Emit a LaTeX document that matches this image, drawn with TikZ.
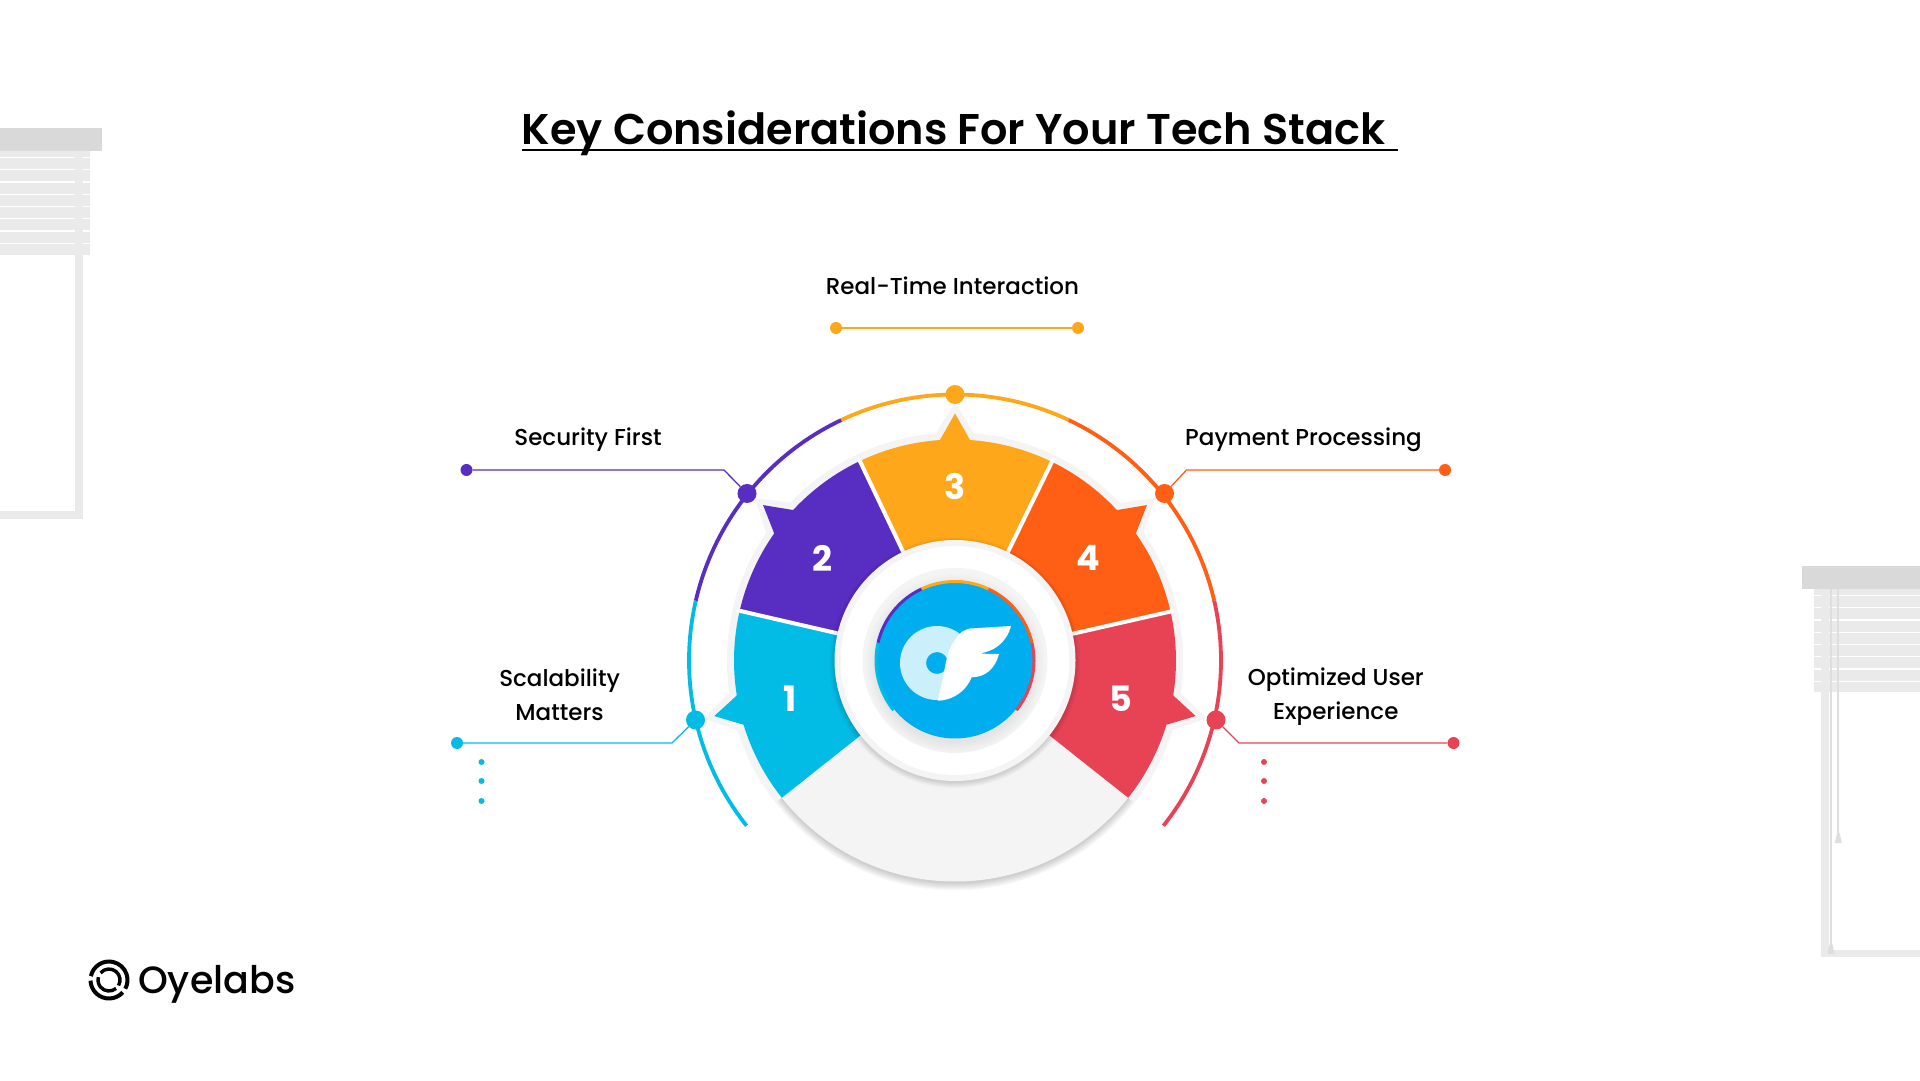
\documentclass[tikz,border=0pt]{standalone}
\usepackage{fontspec}
\setmainfont{Poppins}
\newfontfamily\pmed{Poppins}[UprightFont=* Medium,BoldFont=* SemiBold]
\newfontfamily\psemi{Poppins}[UprightFont=* SemiBold]
\newfontfamily\pbold{Poppins}[UprightFont=* Bold]
\definecolor{ccyan}{HTML}{02BCE5}
\definecolor{cpurple}{HTML}{582DC2}
\definecolor{camber}{HTML}{FFA71A}
\definecolor{corange}{HTML}{FF5F15}
\definecolor{cred}{HTML}{E84355}
\definecolor{cblue}{HTML}{00AEEF}
\definecolor{band}{HTML}{F4F4F4}
\definecolor{framec}{HTML}{EAEAEA}
\definecolor{barc}{HTML}{D9D9D9}
\definecolor{cordc}{HTML}{DEDEDE}
\definecolor{oflight}{HTML}{CBEFFB}
\newcommand{\petal}[4]{\fill[#4] (#1:115) -- (#1:221) arc[start angle=#1,end angle={#3+3.9},radius=221] -- (#3:247) -- ({#3-3.9}:221) arc[start angle={#3-3.9},end angle=#2,radius=221] -- (#2:115) -- cycle;}
\newcommand{\ringseg}[5]{\draw[#4,line width=#5] (#2:#1) arc[start angle=#2,end angle=#3,radius=#1];}
\tikzset{
  x=1pt,y=1pt,
  dotn/.style={circle,inner sep=0pt,minimum size=#1},
  lbl/.style={font=\pmed\fontsize{23}{34}\selectfont,text=black,align=center,inner sep=0pt},
  num/.style={font=\pbold\fontsize{35}{40}\selectfont,text=white,inner sep=0pt},
  lead/.style={line width=1.3pt}
}
\begin{document}
\begin{tikzpicture}
\useasboundingbox (0,0) rectangle (1920,1080);
\fill[white] (0,0) rectangle (1920,1080);
% left window
\fill[framec] (0,825) rectangle (90,929);
\foreach \k in {0,...,7}{\fill[white] (0,{923.3-12.3*\k}) rectangle (90,{922-12.3*\k});}
\fill[framec] (75,561) rectangle (82.7,929);
\fill[framec] (0,561) rectangle (82.7,568.5);
\fill[barc] (0,929) rectangle (102,952);
% right window
\fill[framec] (1814,387.5) rectangle (1920,491);
\foreach \k in {0,...,7}{\fill[white] (1814,{485.3-12.3*\k}) rectangle (1920,{484-12.3*\k});}
\fill[framec] (1821.3,123) rectangle (1829,491);
\fill[framec] (1821.3,123) rectangle (1920,130.5);
\draw[cordc,line width=2] (1831,491) -- (1831,130);
\draw[cordc,line width=2] (1838.3,491) -- (1838.3,247);
\fill[cordc] (1837,247) -- (1839.6,247) -- (1841.8,237) -- (1834.8,237) -- cycle;
\fill[cordc] (1829.7,136) -- (1832.3,136) -- (1834.5,126) -- (1827.5,126) -- cycle;
\fill[barc] (1802,491) rectangle (1920,514);
% title
\node[inner sep=0pt,anchor=base,font=\psemi\fontsize{43}{50}\selectfont] (title) at (953.5,935.5) {Key Considerations For Your Tech Stack};
\coordinate (ulA) at (522,929.5);
\coordinate (ulB) at (1398,929.5);
\draw[black,line width=2] (ulA) -- (ulB);
% logo
\begin{scope}[shift={(109,100)}]
 \draw[black,line width=4] (168:18.5) arc[start angle=168,end angle=-28,radius=18.5];
 \draw[black,line width=4] (-42:18.5) arc[start angle=-42,end angle=-178,radius=18.5];
 \draw[black,line width=3.4] (140:11) arc[start angle=140,end angle=-30,radius=11];
 \draw[black,line width=3.4] (-50:11) arc[start angle=-50,end angle=-195,radius=11];
\end{scope}
\node[inner sep=0pt,anchor=base west,font=\pmed\fontsize{38}{44}\selectfont] (logo) at (138,87) {Oyelabs};
% main wheel
\begin{scope}[shift={(955,419.5)}]
 \foreach \r in {221,222,...,228}{\fill[black,opacity=.022] (0,-2) circle[radius=\r];}
 \fill[band] (218.4:100) -- (218.4:228) arc[start angle=218.4,end angle=197.8,radius=228] -- (193:258) -- (188.2:228) arc[start angle=188.2,end angle=145.8,radius=228] -- (141:258) -- (136.2:228) arc[start angle=136.2,end angle=94.8,radius=228] -- (90:258) -- (85.2:228) arc[start angle=85.2,end angle=43.8,radius=228] -- (39:258) -- (34.2:228) arc[start angle=34.2,end angle=-8.2,radius=228] -- (-13:258) -- (-17.8:228) arc[start angle=-17.8,end angle=-38.4,radius=228] -- (-38.4:100) -- cycle;
 \fill[band] (0,0) circle[radius=221];
 \petal{218.4}{167}{193}{ccyan}
 \petal{167}{115.5}{141}{cpurple}
 \petal{115.5}{64}{90}{camber}
 \petal{64}{12.8}{39}{corange}
 \petal{12.8}{-38.4}{-13}{cred}
 \draw[white,line width=4] (167:115) -- (167:224);
 \draw[white,line width=4] (115.5:115) -- (115.5:224);
 \draw[white,line width=4] (64:115) -- (64:224);
 \draw[white,line width=4] (12.8:115) -- (12.8:224);
 % centre discs
 \foreach \r in {120.5,121.5,...,125.5}{\fill[black,opacity=.025] (0,-2) circle[radius=\r];}
 \fill[band] (0,0) circle[radius=120.5];
 \fill[white] (0,0) circle[radius=114.5];
 \fill[band] (0,0) circle[radius=92.5];
 \foreach \r in {79,80.5,...,89.5}{\fill[black,opacity=.009] (0,-3) circle[radius=\r];}
 \fill[cblue] (0,0) circle[radius=78];
 \ringseg{79}{219}{167}{ccyan}{3}
 \ringseg{79}{167}{115}{cpurple}{3}
 \ringseg{79}{115}{65}{camber}{3}
 \ringseg{79}{65}{13}{corange}{3}
 \ringseg{79}{13}{-39}{cred}{3}
 % outer ring
 \ringseg{266}{218.4}{167}{ccyan}{3.8}
 \ringseg{266}{167}{115.3}{cpurple}{3.8}
 \ringseg{266}{115.3}{64.7}{camber}{3.8}
 \ringseg{266}{64.7}{13}{corange}{3.8}
 \ringseg{266}{13}{-38.4}{cred}{3.8}
\end{scope}
% OF logo
\fill[oflight,even odd rule] (937,417) circle[radius=37] (937,417) circle[radius=11];
\fill[white] (937.7,380) .. controls (945,405) and (945,428) .. (955,440) .. controls (960,448) and (965,451.7) .. (973.3,451.7) -- (1011,454) .. controls (1006.7,437) and (993,428.3) .. (980,426.7) .. controls (986,426) and (993,426) .. (999,426) .. controls (995,411) and (985,402.7) .. (971.7,402.7) arc[start angle=-22,end angle=-89,radius=37.5] -- cycle;
% numbers
\node[num] (n3) at (955.5,593) {3};
\node[num] (n2) at (822,522) {2};
\node[num] (n4) at (1088,522) {4};
\node[num] (n1) at (790.5,381) {1};
\node[num] (n5) at (1120.5,381) {5};
% labels
\node[lbl] (l3) at (952.5,793.8) {Real-Time Interaction};
\node[lbl] (l2) at (588,640.6) {Security First};
\node[lbl] (l4) at (1303.5,640.6) {Payment Processing};
\node[lbl] (l1) at (559.6,384.8) {Scalability\\Matters};
\node[lbl] (l5) at (1335.8,383.3) {Optimized User\\Experience};
% ring dots
\node[dotn=19pt,fill=camber] (r3) at (955,685.5) {};
\node[dotn=19pt,fill=cpurple] (r2) at (747,586.5) {};
\node[dotn=19pt,fill=corange] (r4) at (1164.5,586.5) {};
\node[dotn=19pt,fill=ccyan] (r1) at (695.5,360) {};
\node[dotn=19pt,fill=cred] (r5) at (1216,360) {};
% end dots
\node[dotn=12pt,fill=camber] (a1) at (836,752) {};
\node[dotn=12pt,fill=camber] (a2) at (1078,752) {};
\node[dotn=12pt,fill=cpurple] (p1) at (466.5,610) {};
\node[dotn=12pt,fill=corange] (o1) at (1445,610) {};
\node[dotn=12pt,fill=ccyan] (c1) at (457,337) {};
\node[dotn=12pt,fill=cred] (e1) at (1453.5,337) {};
\coordinate (pb) at (724,610);
\coordinate (ob) at (1186.5,610);
\coordinate (cb) at (672,337);
\coordinate (eb) at (1239,337);
\draw[lead,camber] (a1) -- (a2);
\draw[lead,cpurple] (p1) -- (pb) -- (r2);
\draw[lead,corange] (o1) -- (ob) -- (r4);
\draw[lead,ccyan] (c1) -- (cb) -- (r1);
\draw[lead,cred] (e1) -- (eb) -- (r5);
% small dots
\foreach \y/\n in {318/a,299/b,279/c}{
 \node[dotn=6pt,fill=ccyan] (sc\n) at (481.5,\y) {};
 \node[dotn=6pt,fill=cred] (sr\n) at (1264,\y) {};
}
\end{tikzpicture}
\end{document}
